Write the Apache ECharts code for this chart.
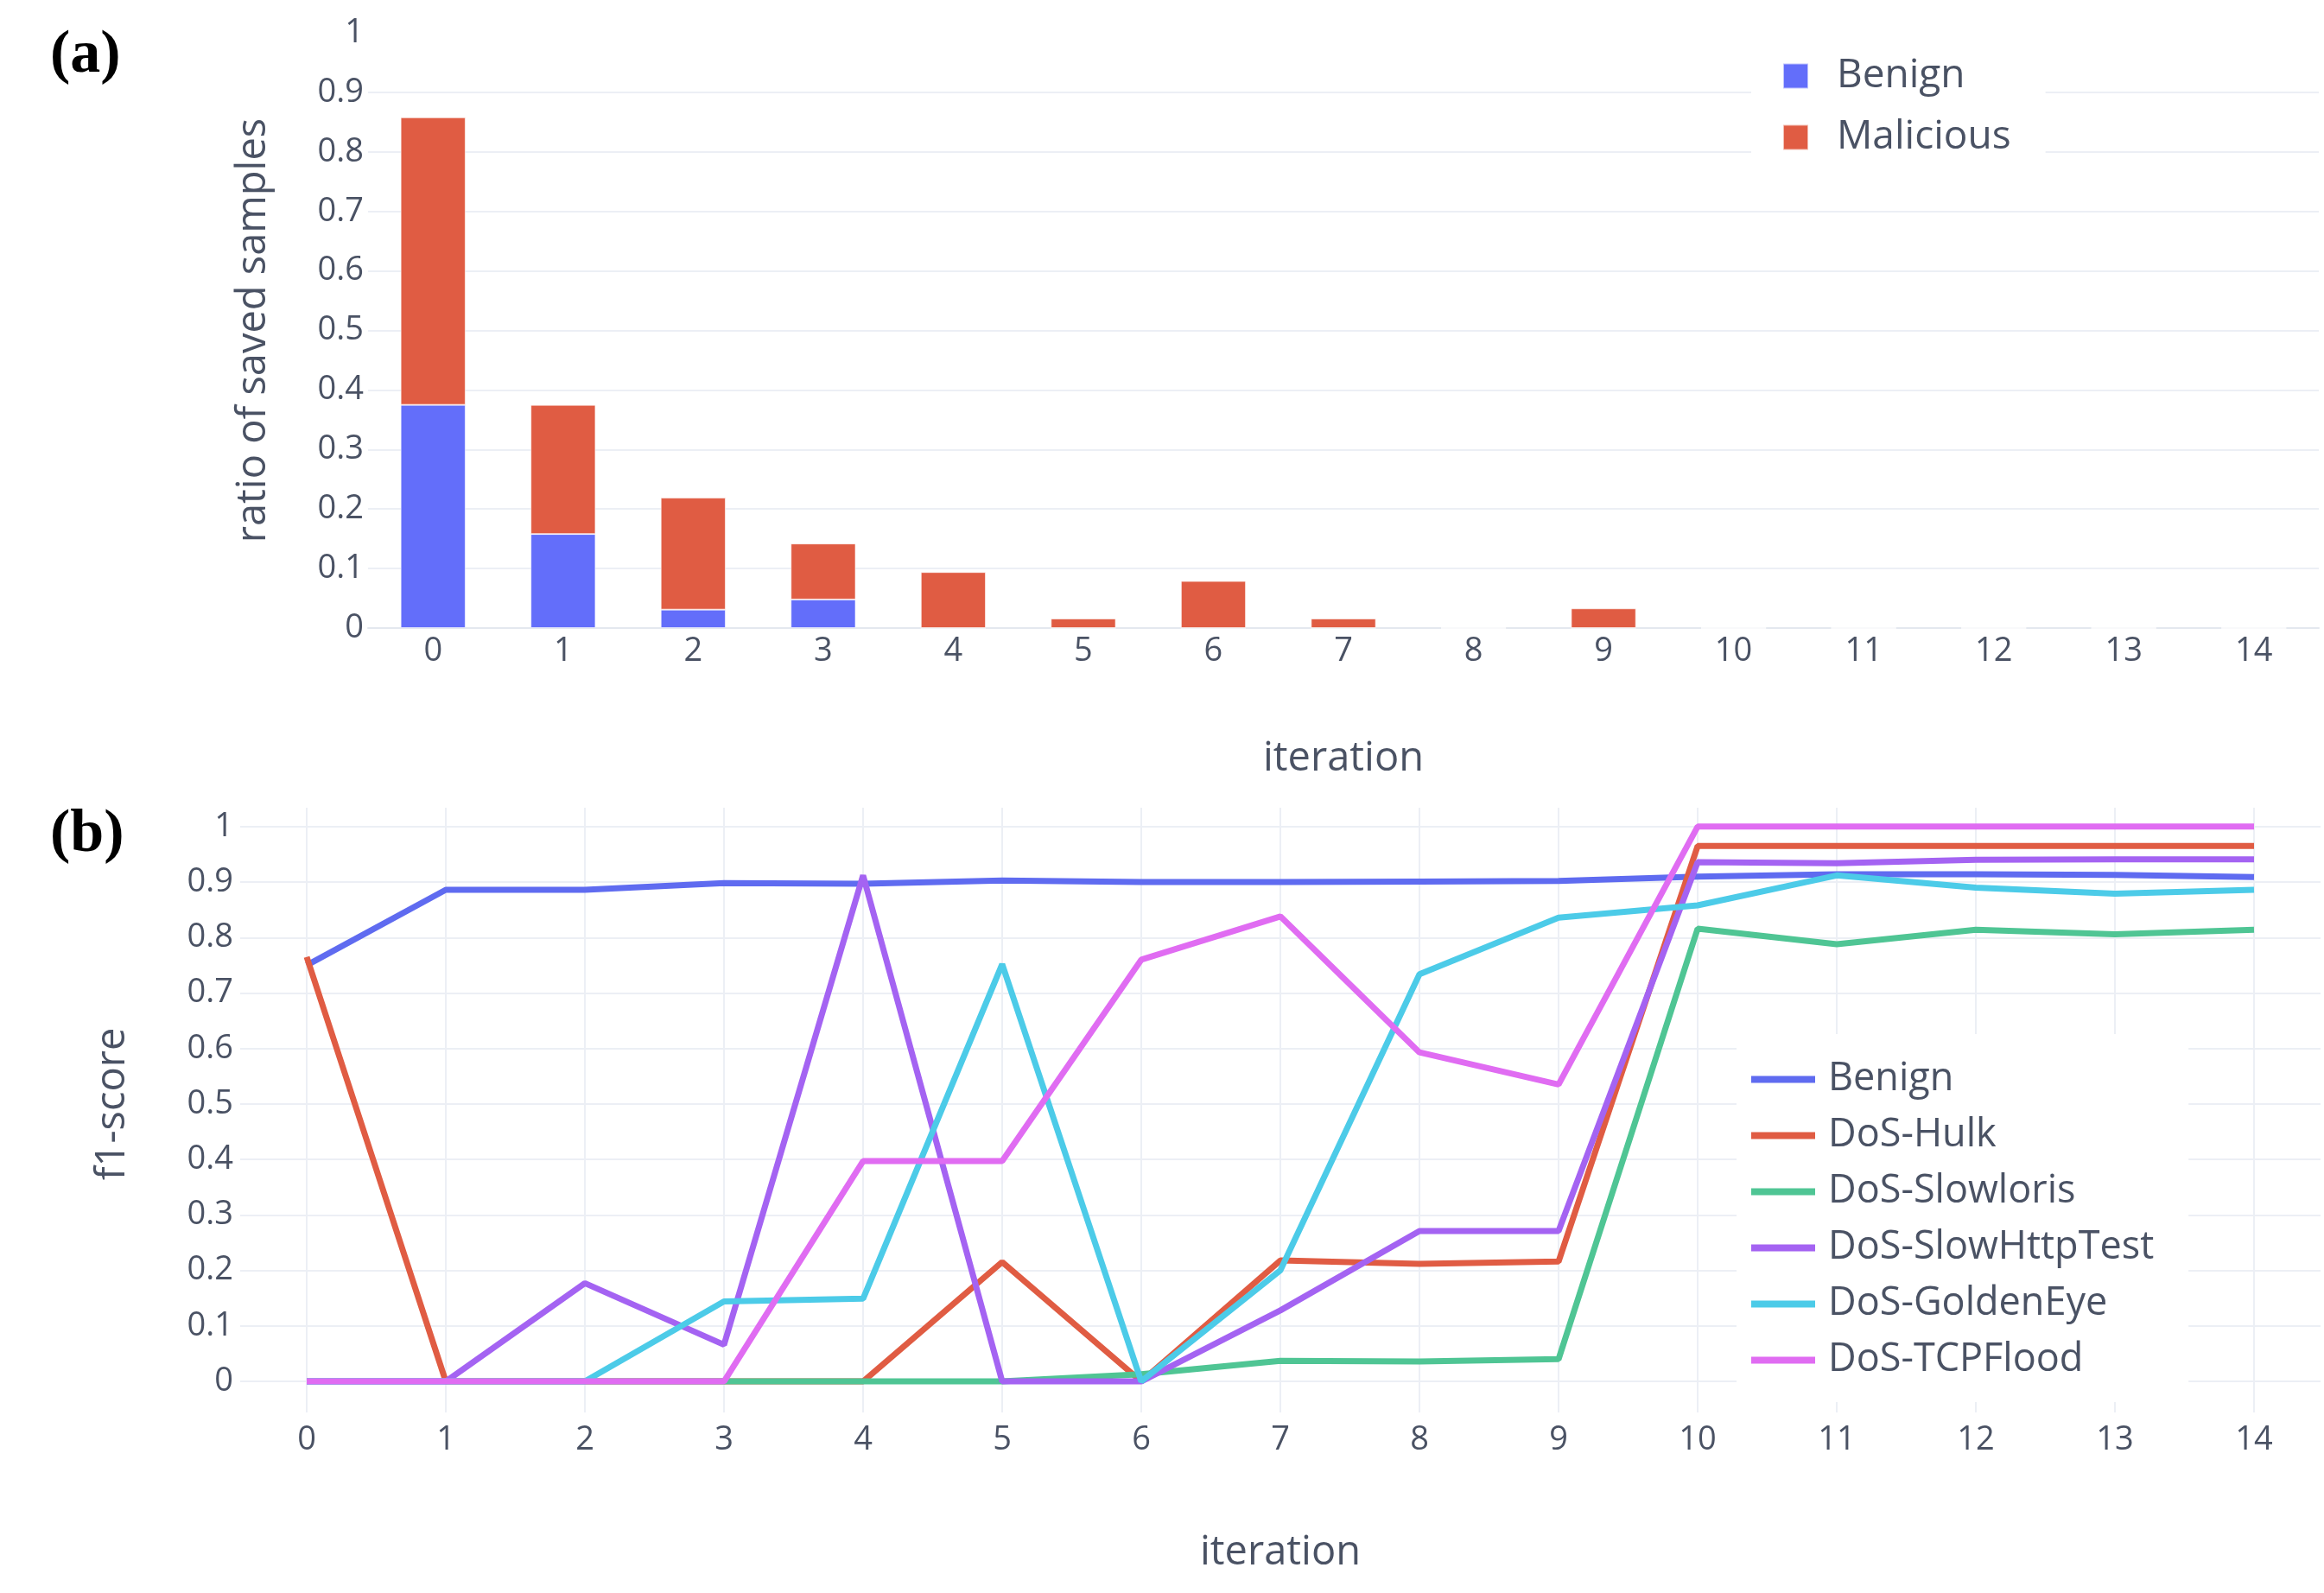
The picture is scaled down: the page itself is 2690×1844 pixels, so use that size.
<!DOCTYPE html>
<html>
<head>
<meta charset="utf-8">
<script src="https://cdn.jsdelivr.net/npm/echarts@6/dist/echarts.min.js"></script>
<style>
  html, body { margin: 0; background: #fff; }
  #chart { width: 2690px; height: 1844px; }
</style>
</head>
<body>
<div id="chart"></div>
<script>
// iterations shared by both panels
const ITERATIONS = [0, 1, 2, 3, 4, 5, 6, 7, 8, 9, 10, 11, 12, 13, 14];

// (a) ratio of saved samples, stacked
const BENIGN_RATIO    = [0.375, 0.158, 0.031, 0.048, 0, 0, 0, 0, 0, 0, 0, 0, 0, 0, 0];
const MALICIOUS_RATIO = [0.483, 0.217, 0.188, 0.094, 0.094, 0.016, 0.079, 0.016, 0, 0.033, 0, 0, 0, 0, 0];

// (b) f1-score per class
const CLASS_NAMES = ['Benign', 'DoS-Hulk', 'DoS-Slowloris', 'DoS-SlowHttpTest', 'DoS-GoldenEye', 'DoS-TCPFlood'];
const F1_BENIGN        = [0.75, 0.886, 0.886, 0.898, 0.897, 0.903, 0.9, 0.9, 0.901, 0.902, 0.91, 0.914, 0.914, 0.913, 0.909];
const F1_HULK          = [0.765, 0, 0, 0, 0, 0.215, 0, 0.218, 0.212, 0.216, 0.965, 0.965, 0.965, 0.965, 0.965];
const F1_SLOWLORIS     = [0, 0, 0, 0, 0, 0, 0.013, 0.037, 0.036, 0.04, 0.816, 0.788, 0.814, 0.806, 0.814];
const F1_SLOWHTTPTEST  = [0, 0, 0.177, 0.066, 0.912, 0, 0, 0.128, 0.271, 0.271, 0.936, 0.934, 0.94, 0.941, 0.941];
const F1_GOLDENEYE     = [0, 0, 0, 0.144, 0.149, 0.752, 0, 0.2, 0.734, 0.836, 0.858, 0.912, 0.89, 0.879, 0.886];
const F1_TCPFLOOD      = [0, 0, 0, 0, 0.397, 0.397, 0.76, 0.838, 0.593, 0.535, 1, 1, 1, 1, 1];
const F1_VALUES = [F1_BENIGN, F1_HULK, F1_SLOWLORIS, F1_SLOWHTTPTEST, F1_GOLDENEYE, F1_TCPFLOOD];

const BAR_COLORS  = ['#636efa', '#e05c43'];
const LINE_COLORS = ['#5f6bf0', '#e05c43', '#4fc594', '#a463f2', '#4ccbe8', '#e06cf2'];

const FONT = '"Open Sans", sans-serif';
const TEXT_COLOR = '#4a5264';
const GRID_COLOR = '#eceff5';
const F1_SUFFIX = ' (f1)';   // keeps line series names apart from the bar series

const tickLabel = (margin) => ({ margin: margin, fontSize: 38, color: TEXT_COLOR, fontFamily: FONT });
const nameStyle = { fontSize: 47, color: TEXT_COLOR, fontFamily: FONT };

const chart = echarts.init(document.getElementById('chart'), null, { renderer: 'canvas' });

const lineSeries = CLASS_NAMES.map((name, k) => ({
    name: name + F1_SUFFIX,
    type: 'line',
    xAxisIndex: 2,
    yAxisIndex: 2,
    symbol: 'none',
    color: LINE_COLORS[k],
    lineStyle: { width: 7, color: LINE_COLORS[k] },
    data: ITERATIONS.map((it, i) => [it, F1_VALUES[k][i]])
}));

chart.setOption({
    animation: false,
    backgroundColor: '#fff',
    grid: [
        { left: 426, right: 6, top: 38, bottom: 1117 },
        { left: 278, right: 4, top: 957, bottom: 245 },
        { left: 355, right: 81, top: 935, bottom: 209 }
    ],
    xAxis: [
        {
            gridIndex: 0, type: 'category', data: ITERATIONS, boundaryGap: true,
            axisTick: { show: false },
            axisLine: { show: true, lineStyle: { color: '#e4e8ef', width: 2 } },
            axisLabel: tickLabel(8),
            name: 'iteration', nameLocation: 'middle', nameGap: 128, nameTextStyle: nameStyle
        },
        { gridIndex: 1, type: 'value', min: 0, max: 1, show: false },
        {
            gridIndex: 2, type: 'value', min: 0, max: 14, interval: 1,
            axisLine: { show: false }, axisTick: { show: false },
            splitLine: { show: true, lineStyle: { color: GRID_COLOR, width: 2 } },
            axisLabel: tickLabel(13),
            name: 'iteration', nameLocation: 'middle', nameGap: 139, nameTextStyle: nameStyle
        }
    ],
    yAxis: [
        {
            gridIndex: 0, type: 'value', min: 0, max: 1, interval: 0.1,
            axisLine: { show: false }, axisTick: { show: false },
            splitLine: { show: true, showMaxLine: false, lineStyle: { color: GRID_COLOR, width: 2 } },
            axisLabel: tickLabel(5),
            name: 'ratio of saved samples', nameLocation: 'middle', nameRotate: 90, nameGap: 109,
            nameTextStyle: nameStyle
        },
        {
            gridIndex: 1, type: 'value', min: 0, max: 1, interval: 0.1,
            axisLine: { show: false }, axisTick: { show: false },
            splitLine: { show: true, lineStyle: { color: GRID_COLOR, width: 2 } },
            axisLabel: tickLabel(8),
            name: 'f1-score', nameLocation: 'middle', nameRotate: 90, nameGap: 124,
            nameTextStyle: nameStyle
        },
        // plotly pads the f1 range a little; this keeps 0 and 1 on the gridlines above
        { gridIndex: 2, type: 'value', min: -0.056, max: 1.034, show: false }
    ],
    legend: [
        {
            data: ['Benign', 'Malicious'],
            orient: 'vertical', left: 2027, top: 40,
            padding: [25, 40, 25, 36], backgroundColor: '#fff',
            icon: 'rect', itemWidth: 29, itemHeight: 29, itemGap: 25,
            textStyle: { fontSize: 46, color: TEXT_COLOR, fontFamily: FONT, padding: [0, 0, 0, 28] },
            selectedMode: false
        },
        {
            data: CLASS_NAMES.map(n => n + F1_SUFFIX),
            formatter: n => n.replace(F1_SUFFIX, ''),
            orient: 'vertical', left: 2010, top: 1197,
            padding: [30, 40, 26, 13], backgroundColor: '#fff',
            itemWidth: 74, itemHeight: 20, itemGap: 20,
            itemStyle: { opacity: 0 },
            lineStyle: { width: 8 },
            textStyle: { fontSize: 45, color: TEXT_COLOR, fontFamily: FONT, padding: [0, 0, 0, 10] },
            selectedMode: false
        }
    ],
    graphic: [
        { type: 'text', left: 58, top: 30, style: { text: '(a)', font: 'bold 70px "Liberation Serif"', fill: '#000' } },
        { type: 'text', left: 58, top: 932, style: { text: '(b)', font: 'bold 70px "Liberation Serif"', fill: '#000' } }
    ],
    series: [
        {
            name: 'Benign', type: 'bar', stack: 'ratio', xAxisIndex: 0, yAxisIndex: 0,
            barWidth: '50%', color: BAR_COLORS[0],
            itemStyle: { color: BAR_COLORS[0], borderColor: 'rgba(255,255,255,0.6)', borderWidth: 1 },
            data: BENIGN_RATIO
        },
        {
            name: 'Malicious', type: 'bar', stack: 'ratio', xAxisIndex: 0, yAxisIndex: 0,
            barWidth: '50%', color: BAR_COLORS[1],
            itemStyle: { color: BAR_COLORS[1], borderColor: 'rgba(255,255,255,0.6)', borderWidth: 1 },
            data: MALICIOUS_RATIO
        }
    ].concat(lineSeries)
});
</script>
</body>
</html>
